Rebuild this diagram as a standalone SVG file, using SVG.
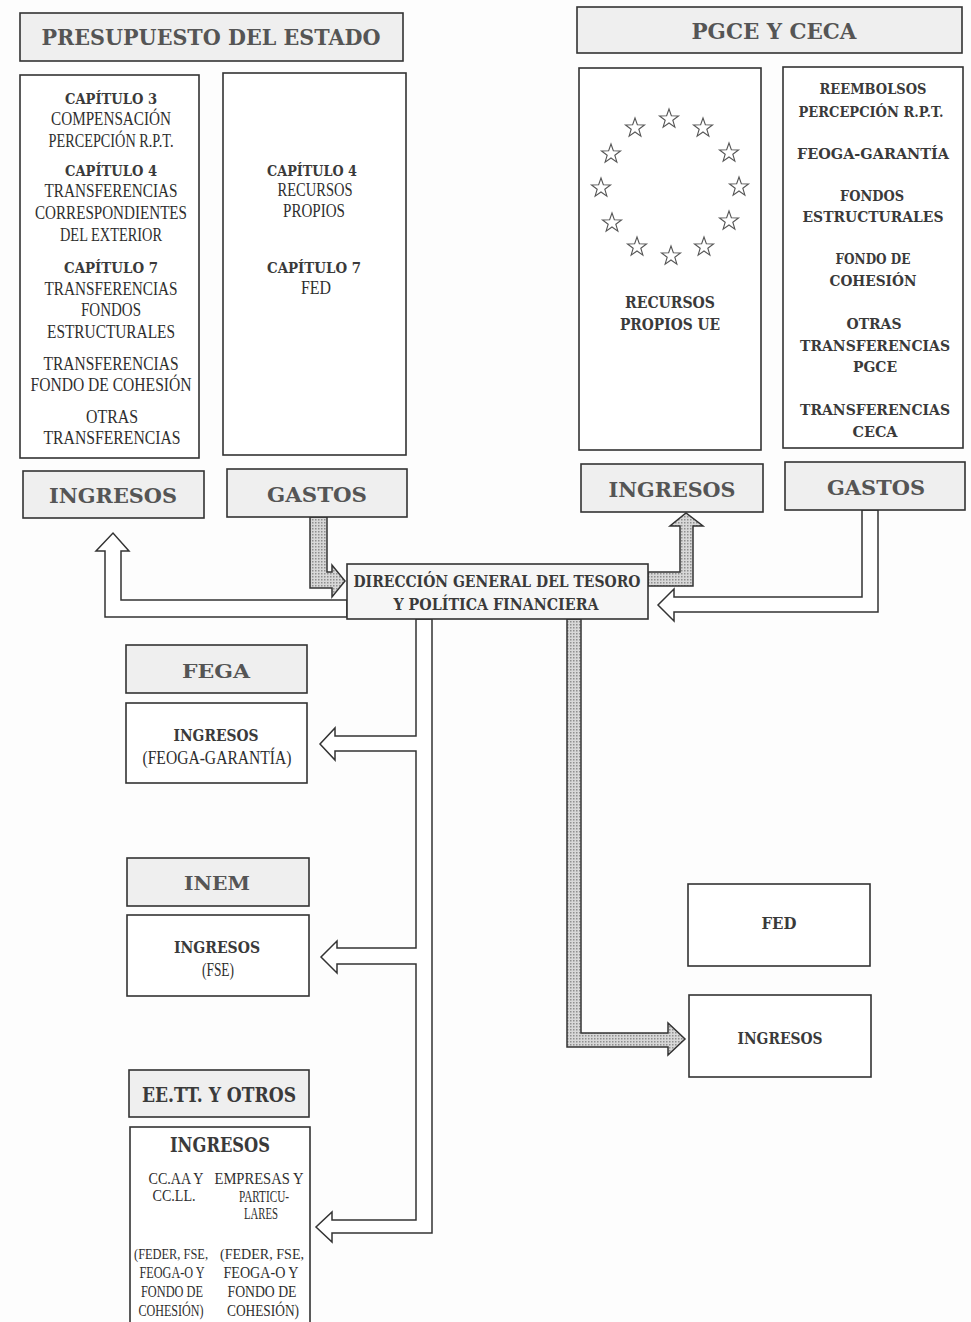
<svg xmlns="http://www.w3.org/2000/svg" width="971" height="1322" viewBox="0 0 971 1322">
<style>
.box{fill:#fff;stroke:#333;stroke-width:1.6}
.hdr{fill:#efefef;stroke:#333;stroke-width:1.6}
.b{font-family:"DejaVu Serif",serif;font-weight:bold;fill:#3a3a3a;text-anchor:middle}
.h{font-family:"DejaVu Serif",serif;font-weight:bold;fill:#555;text-anchor:middle}
.l{font-family:"Liberation Serif",serif;fill:#2e2e2e;text-anchor:middle}
.grey{fill:url(#dots);stroke:#333;stroke-width:1.5;stroke-linejoin:miter}
.white{fill:#fff;stroke:#333;stroke-width:1.5;stroke-linejoin:miter}
.star{fill:none;stroke:#555;stroke-width:1.1}
</style>
<defs>
<pattern id="dots" width="3" height="3" patternUnits="userSpaceOnUse"><rect width="3" height="3" fill="#d8d8d8"/><rect width="1.5" height="1.5" fill="#8f8f8f"/></pattern>
<path id="st" d="M0,-10 L2.35,-3.24 L9.51,-3.09 L3.8,1.24 L5.88,8.09 L0,4 L-5.88,8.09 L-3.8,1.24 L-9.51,-3.09 L-2.35,-3.24 Z"/>
</defs>
<rect width="971" height="1322" fill="#fdfdfd"/>

<g id="connectors">
<polygon class="grey" points="310,517 327,517 327,572 332,572 332,565 345,581 332,597 332,588 310,588"/>
<polygon class="white" points="347,600 121,600 121,551 129,551 113,533 96,551 105,551 105,617 347,617"/>
<polygon class="grey" points="648,572 680,572 680,526 670,526 686,513 703,526 693,526 693,586 648,586"/>
<polygon class="white" points="862,510 862,597 674,597 674,589 658,605 674,621 674,612 878,612 878,510"/>
<polygon class="white" points="416,619 416,736 335,736 335,728 320,744 335,760 335,751 416,751 416,948 337,948 337,941 321,957 337,973 337,964 416,964 416,1220 332,1220 332,1212 316,1227 332,1242 332,1233 432,1233 432,619"/>
<polygon class="grey" points="567,619 581,619 581,1033 668,1033 668,1023 685,1039 668,1055 668,1047 567,1047"/>
</g>

<g id="presupuesto-header">
<rect class="hdr" x="20" y="13" width="383" height="48"/>
<text class="h" x="211" y="45" font-size="23" textLength="339" lengthAdjust="spacingAndGlyphs">PRESUPUESTO DEL ESTADO</text>
</g>

<g id="pe-ingresos-content">
<rect class="box" x="20" y="75" width="179" height="383"/>
<text class="b" x="111" y="104" font-size="15" textLength="92" lengthAdjust="spacingAndGlyphs">CAPÍTULO 3</text>
<text class="l" x="111" y="125" font-size="19" textLength="120" lengthAdjust="spacingAndGlyphs">COMPENSACIÓN</text>
<text class="l" x="111" y="147" font-size="19" textLength="125" lengthAdjust="spacingAndGlyphs">PERCEPCIÓN R.P.T.</text>
<text class="b" x="111" y="176" font-size="15" textLength="92" lengthAdjust="spacingAndGlyphs">CAPÍTULO 4</text>
<text class="l" x="111" y="197" font-size="19" textLength="133" lengthAdjust="spacingAndGlyphs">TRANSFERENCIAS</text>
<text class="l" x="111" y="219" font-size="19" textLength="152" lengthAdjust="spacingAndGlyphs">CORRESPONDIENTES</text>
<text class="l" x="111" y="241" font-size="19" textLength="102" lengthAdjust="spacingAndGlyphs">DEL EXTERIOR</text>
<text class="b" x="111" y="273" font-size="15" textLength="94" lengthAdjust="spacingAndGlyphs">CAPÍTULO 7</text>
<text class="l" x="111" y="295" font-size="19" textLength="133" lengthAdjust="spacingAndGlyphs">TRANSFERENCIAS</text>
<text class="l" x="111" y="316" font-size="19" textLength="60" lengthAdjust="spacingAndGlyphs">FONDOS</text>
<text class="l" x="111" y="338" font-size="19" textLength="128" lengthAdjust="spacingAndGlyphs">ESTRUCTURALES</text>
<text class="l" x="111" y="370" font-size="19" textLength="135" lengthAdjust="spacingAndGlyphs">TRANSFERENCIAS</text>
<text class="l" x="111" y="391" font-size="19" textLength="161" lengthAdjust="spacingAndGlyphs">FONDO DE COHESIÓN</text>
<text class="l" x="112" y="423" font-size="19" textLength="52" lengthAdjust="spacingAndGlyphs">OTRAS</text>
<text class="l" x="112" y="444" font-size="19" textLength="137" lengthAdjust="spacingAndGlyphs">TRANSFERENCIAS</text>
</g>

<g id="pe-gastos-content">
<rect class="box" x="223" y="73" width="183" height="382"/>
<text class="b" x="312" y="176" font-size="15" textLength="90" lengthAdjust="spacingAndGlyphs">CAPÍTULO 4</text>
<text class="l" x="315" y="196" font-size="19" textLength="75" lengthAdjust="spacingAndGlyphs">RECURSOS</text>
<text class="l" x="314" y="217" font-size="19" textLength="62" lengthAdjust="spacingAndGlyphs">PROPIOS</text>
<text class="b" x="314" y="273" font-size="15" textLength="94" lengthAdjust="spacingAndGlyphs">CAPÍTULO 7</text>
<text class="l" x="316" y="294" font-size="19" textLength="30" lengthAdjust="spacingAndGlyphs">FED</text>
</g>

<g id="pe-ingresos">
<rect class="hdr" x="23" y="471" width="181" height="47"/>
<text class="h" x="113" y="503" font-size="21" textLength="128" lengthAdjust="spacingAndGlyphs">INGRESOS</text>
</g>
<g id="pe-gastos">
<rect class="hdr" x="227" y="469" width="180" height="48"/>
<text class="h" x="317" y="502" font-size="21" textLength="100" lengthAdjust="spacingAndGlyphs">GASTOS</text>
</g>

<g id="pgce-header">
<rect class="hdr" x="577" y="7" width="385" height="46"/>
<text class="h" x="774" y="39" font-size="22" textLength="165" lengthAdjust="spacingAndGlyphs">PGCE Y CECA</text>
</g>

<g id="pgce-ingresos-content">
<rect class="box" x="579" y="68" width="182" height="382"/>
<use href="#st" class="star" x="635" y="128"/>
<use href="#st" class="star" x="669" y="119"/>
<use href="#st" class="star" x="703" y="128"/>
<use href="#st" class="star" x="611" y="154"/>
<use href="#st" class="star" x="729" y="153"/>
<use href="#st" class="star" x="601" y="188"/>
<use href="#st" class="star" x="739" y="187"/>
<use href="#st" class="star" x="612" y="223"/>
<use href="#st" class="star" x="729" y="221"/>
<use href="#st" class="star" x="637" y="247"/>
<use href="#st" class="star" x="671" y="256"/>
<use href="#st" class="star" x="704" y="247"/>
<text class="b" x="670" y="308" font-size="16" textLength="90" lengthAdjust="spacingAndGlyphs">RECURSOS</text>
<text class="b" x="670" y="330" font-size="16" textLength="100" lengthAdjust="spacingAndGlyphs">PROPIOS UE</text>
</g>

<g id="pgce-gastos-content">
<rect class="box" x="783" y="67" width="180" height="381"/>
<text class="b" x="873" y="94" font-size="15" textLength="107" lengthAdjust="spacingAndGlyphs">REEMBOLSOS</text>
<text class="b" x="871" y="117" font-size="14" textLength="145" lengthAdjust="spacingAndGlyphs">PERCEPCIÓN R.P.T.</text>
<text class="b" x="873" y="159" font-size="15" textLength="152" lengthAdjust="spacingAndGlyphs">FEOGA-GARANTÍA</text>
<text class="b" x="872" y="201" font-size="15" textLength="64" lengthAdjust="spacingAndGlyphs">FONDOS</text>
<text class="b" x="873" y="222" font-size="15" textLength="141" lengthAdjust="spacingAndGlyphs">ESTRUCTURALES</text>
<text class="b" x="873" y="264" font-size="15" textLength="75" lengthAdjust="spacingAndGlyphs">FONDO DE</text>
<text class="b" x="873" y="286" font-size="15" textLength="87" lengthAdjust="spacingAndGlyphs">COHESIÓN</text>
<text class="b" x="874" y="329" font-size="15" textLength="55" lengthAdjust="spacingAndGlyphs">OTRAS</text>
<text class="b" x="875" y="351" font-size="15" textLength="150" lengthAdjust="spacingAndGlyphs">TRANSFERENCIAS</text>
<text class="b" x="875" y="372" font-size="15" textLength="44" lengthAdjust="spacingAndGlyphs">PGCE</text>
<text class="b" x="875" y="415" font-size="15" textLength="150" lengthAdjust="spacingAndGlyphs">TRANSFERENCIAS</text>
<text class="b" x="875" y="437" font-size="15" textLength="45" lengthAdjust="spacingAndGlyphs">CECA</text>
</g>

<g id="pgce-ingresos">
<rect class="hdr" x="581" y="464" width="182" height="48"/>
<text class="h" x="672" y="497" font-size="21" textLength="127" lengthAdjust="spacingAndGlyphs">INGRESOS</text>
</g>
<g id="pgce-gastos">
<rect class="hdr" x="785" y="462" width="180" height="48"/>
<text class="h" x="876" y="495" font-size="21" textLength="98" lengthAdjust="spacingAndGlyphs">GASTOS</text>
</g>

<g id="dgtpf">
<rect class="box" x="347" y="564" width="301" height="55" style="fill:#f6f6f6"/>
<text class="b" x="497" y="587" font-size="16" textLength="287" lengthAdjust="spacingAndGlyphs">DIRECCIÓN GENERAL DEL TESORO</text>
<text class="b" x="496" y="610" font-size="16" textLength="205" lengthAdjust="spacingAndGlyphs">Y POLÍTICA FINANCIERA</text>
</g>

<g id="fega">
<rect class="hdr" x="126" y="645" width="181" height="48"/>
<text class="h" x="216" y="678" font-size="18" textLength="68" lengthAdjust="spacingAndGlyphs">FEGA</text>
</g>
<g id="fega-ingresos">
<rect class="box" x="126" y="703" width="181" height="80"/>
<text class="b" x="216" y="741" font-size="16" textLength="85" lengthAdjust="spacingAndGlyphs">INGRESOS</text>
<text class="l" x="217" y="764" font-size="18" textLength="149" lengthAdjust="spacingAndGlyphs">(FEOGA-GARANTÍA)</text>
</g>

<g id="inem">
<rect class="hdr" x="127" y="858" width="182" height="48"/>
<text class="h" x="217" y="890" font-size="18" textLength="66" lengthAdjust="spacingAndGlyphs">INEM</text>
</g>
<g id="inem-ingresos">
<rect class="box" x="127" y="915" width="182" height="81"/>
<text class="b" x="217" y="953" font-size="16" textLength="86" lengthAdjust="spacingAndGlyphs">INGRESOS</text>
<text class="l" x="218" y="976" font-size="18" textLength="32" lengthAdjust="spacingAndGlyphs">(FSE)</text>
</g>

<g id="eett">
<rect class="hdr" x="129" y="1070" width="180" height="47"/>
<text class="b" x="219" y="1102" font-size="20" textLength="154" lengthAdjust="spacingAndGlyphs">EE.TT. Y OTROS</text>
</g>
<g id="eett-ingresos">
<rect class="box" x="130" y="1127" width="180" height="210"/>
<text class="b" x="220" y="1152" font-size="20" textLength="100" lengthAdjust="spacingAndGlyphs">INGRESOS</text>
<text class="l" x="176" y="1184" font-size="16" textLength="55" lengthAdjust="spacingAndGlyphs">CC.AA Y</text>
<text class="l" x="174" y="1201" font-size="16" textLength="43" lengthAdjust="spacingAndGlyphs">CC.LL.</text>
<text class="l" x="259" y="1184" font-size="16" textLength="89" lengthAdjust="spacingAndGlyphs">EMPRESAS Y</text>
<text class="l" x="264" y="1202" font-size="16" textLength="50" lengthAdjust="spacingAndGlyphs">PARTICU-</text>
<text class="l" x="261" y="1219" font-size="16" textLength="34" lengthAdjust="spacingAndGlyphs">LARES</text>
<text class="l" x="171" y="1259" font-size="15" textLength="74" lengthAdjust="spacingAndGlyphs">(FEDER, FSE,</text>
<text class="l" x="172" y="1278" font-size="16" textLength="65" lengthAdjust="spacingAndGlyphs">FEOGA-O Y</text>
<text class="l" x="172" y="1297" font-size="16" textLength="62" lengthAdjust="spacingAndGlyphs">FONDO DE</text>
<text class="l" x="171" y="1316" font-size="16" textLength="65" lengthAdjust="spacingAndGlyphs">COHESIÓN)</text>
<text class="l" x="262" y="1259" font-size="15" textLength="84" lengthAdjust="spacingAndGlyphs">(FEDER, FSE,</text>
<text class="l" x="261" y="1278" font-size="16" textLength="75" lengthAdjust="spacingAndGlyphs">FEOGA-O Y</text>
<text class="l" x="262" y="1297" font-size="16" textLength="69" lengthAdjust="spacingAndGlyphs">FONDO DE</text>
<text class="l" x="263" y="1316" font-size="16" textLength="72" lengthAdjust="spacingAndGlyphs">COHESIÓN)</text>
</g>

<g id="fed">
<rect class="box" x="688" y="884" width="182" height="82"/>
<text class="b" x="779" y="929" font-size="16" textLength="35" lengthAdjust="spacingAndGlyphs">FED</text>
</g>
<g id="fed-ingresos">
<rect class="box" x="689" y="995" width="182" height="82"/>
<text class="b" x="780" y="1044" font-size="16" textLength="85" lengthAdjust="spacingAndGlyphs">INGRESOS</text>
</g>
</svg>
